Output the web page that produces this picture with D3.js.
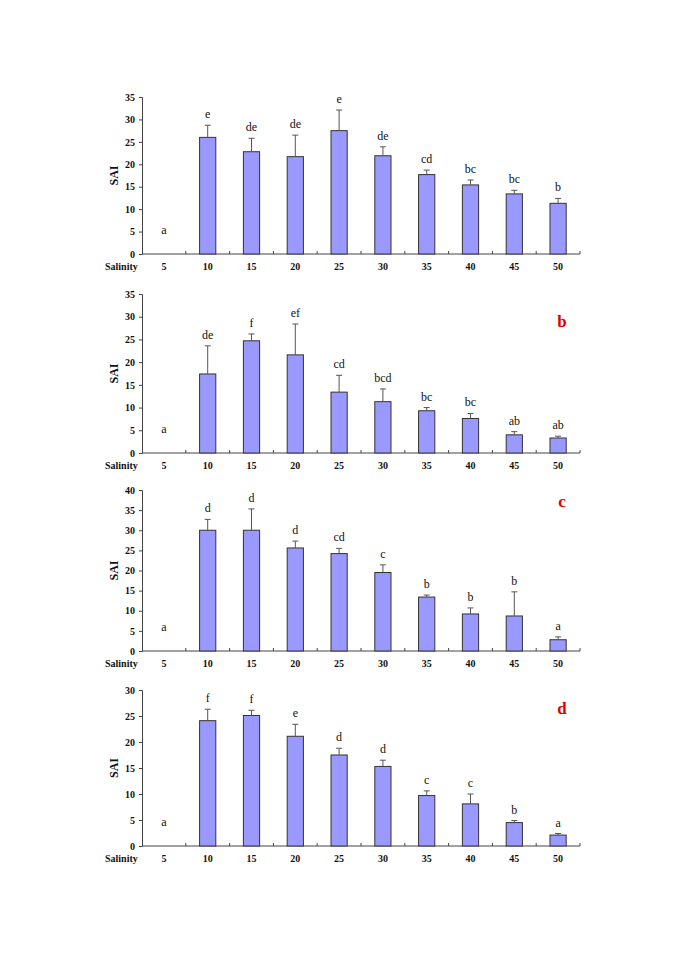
<!DOCTYPE html>
<html>
<head>
<meta charset="utf-8">
<script src="https://cdn.jsdelivr.net/npm/d3@7"></script>
<style>
  body { margin: 0; background: #fff; }
  text { font-family: "Liberation Serif", "Times New Roman", serif; }
</style>
</head>
<body>
<script>
var salinity = ['5', '10', '15', '20', '25', '30', '35', '40', '45', '50'];

// panel a
var saiA = [0, 26.0, 22.8, 21.7, 27.5, 21.9, 17.7, 15.4, 13.4, 11.3];
var errA = [0, 2.7, 3.0, 4.8, 4.6, 2.0, 1.0, 1.1, 0.8, 1.1];
var letA = ['a', 'e', 'de', 'de', 'e', 'de', 'cd', 'bc', 'bc', 'b'];
// panel b
var saiB = [0, 17.4, 24.7, 21.6, 13.4, 11.3, 9.3, 7.6, 4.0, 3.3];
var errB = [0, 6.2, 1.5, 6.8, 3.7, 2.8, 0.7, 1.1, 0.7, 0.4];
var letB = ['a', 'de', 'f', 'ef', 'cd', 'bcd', 'bc', 'bc', 'ab', 'ab'];
// panel c
var saiC = [0, 30.0, 30.0, 25.6, 24.2, 19.5, 13.4, 9.2, 8.7, 2.8];
var errC = [0, 2.7, 5.3, 1.7, 1.3, 1.9, 0.5, 1.5, 6.0, 0.7];
var letC = ['a', 'd', 'd', 'd', 'cd', 'c', 'b', 'b', 'b', 'a'];
// panel d
var saiD = [0, 24.1, 25.1, 21.1, 17.5, 15.3, 9.7, 8.1, 4.5, 2.1];
var errD = [0, 2.2, 1.0, 2.3, 1.3, 1.2, 0.9, 1.9, 0.4, 0.3];
var letD = ['a', 'f', 'f', 'e', 'd', 'd', 'c', 'c', 'b', 'a'];

var yMaxes = [35, 35, 40, 30];
var panelTags = ['', 'b', 'c', 'd'];

// layout of each panel (pixel positions of the plot area)
var panels = [
  { sai: saiA, err: errA, lets: letA, top: 97, bottom: 254, tagY: 0 },
  { sai: saiB, err: errB, lets: letB, top: 294, bottom: 453, tagY: 327 },
  { sai: saiC, err: errC, lets: letC, top: 490, bottom: 651, tagY: 507 },
  { sai: saiD, err: errD, lets: letD, top: 690, bottom: 846, tagY: 714 }
];

var svg = d3.select('body').append('svg').attr('width', 685).attr('height', 969);

var left = 142, right = 580;

var x = d3.scaleBand().domain(salinity).range([left, right]).padding(0);
var barW = x.bandwidth() * 0.37;

function drawPanel(p, i) {
  var g = svg.append('g');
  var y = d3.scaleLinear().domain([0, yMaxes[i]]).range([p.bottom, p.top]);
  var data = salinity.map(function(s, k) {
    return { cat: s, v: p.sai[k], e: p.err[k], l: p.lets[k] };
  });

  // y axis
  var yAxis = d3.axisLeft(y).tickValues(d3.range(0, yMaxes[i] + 1, 5))
    .tickSize(3).tickSizeOuter(3).tickPadding(4);
  var ya = g.append('g').attr('transform', 'translate(' + left + ',0)').call(yAxis);
  ya.select('.domain').attr('stroke', '#444');
  ya.selectAll('.tick line').attr('stroke', '#444');
  ya.selectAll('text').attr('font-size', 10).attr('font-weight', 'bold')
    .attr('font-family', '"Liberation Serif", serif').attr('fill', '#111');

  // x axis line with ticks between categories (drawn upward)
  var xa = g.append('g').attr('transform', 'translate(0,' + p.bottom + ')');
  xa.append('line').attr('x1', left).attr('x2', right).attr('stroke', '#444');
  xa.selectAll('.sep').data(salinity)
    .enter().append('line')
    .attr('x1', function(d) { return x(d) + x.bandwidth(); })
    .attr('x2', function(d) { return x(d) + x.bandwidth(); })
    .attr('y1', 0).attr('y2', -3).attr('stroke', '#444');
  xa.selectAll('.cat').data(salinity).enter().append('text')
    .attr('x', function(d) { return x(d) + x.bandwidth() / 2; })
    .attr('y', 16)
    .attr('text-anchor', 'middle').attr('font-size', 10).attr('font-weight', 'bold')
    .attr('fill', '#111').text(function(d) { return d; });
  xa.append('text').attr('x', 105).attr('y', 16).attr('font-size', 10)
    .attr('font-weight', 'bold').attr('fill', '#111').text('Salinity');

  // y label
  g.append('text')
    .attr('transform', 'translate(118,' + ((p.top + p.bottom) / 2) + ') rotate(-90)')
    .attr('text-anchor', 'middle').attr('font-size', 12).attr('font-weight', 'bold')
    .attr('fill', '#111').text('SAI');

  // bars
  g.selectAll('.bar').data(data.filter(function(d) { return d.v > 0; }))
    .enter().append('rect')
    .attr('x', function(d) { return x(d.cat) + (x.bandwidth() - barW) / 2; })
    .attr('y', function(d) { return y(d.v); })
    .attr('width', barW)
    .attr('height', function(d) { return p.bottom - y(d.v); })
    .attr('fill', '#9999ff').attr('stroke', '#333').attr('stroke-width', 1);

  // error bars (upper only)
  var eb = g.selectAll('.err').data(data.filter(function(d) { return d.e > 0; }))
    .enter().append('g');
  eb.append('line')
    .attr('x1', function(d) { return x(d.cat) + x.bandwidth() / 2; })
    .attr('x2', function(d) { return x(d.cat) + x.bandwidth() / 2; })
    .attr('y1', function(d) { return y(d.v); })
    .attr('y2', function(d) { return y(d.v + d.e); })
    .attr('stroke', '#555');
  eb.append('line')
    .attr('x1', function(d) { return x(d.cat) + x.bandwidth() / 2 - 3; })
    .attr('x2', function(d) { return x(d.cat) + x.bandwidth() / 2 + 3; })
    .attr('y1', function(d) { return y(d.v + d.e); })
    .attr('y2', function(d) { return y(d.v + d.e); })
    .attr('stroke', '#555');

  // significance letters
  g.selectAll('.let').data(data).enter().append('text')
    .attr('x', function(d) { return x(d.cat) + x.bandwidth() / 2; })
    .attr('y', function(d) { return d.v > 0 ? y(d.v + d.e) - 7 : p.bottom - 20; })
    .attr('text-anchor', 'middle').attr('font-size', 12).attr('fill', '#111')
    .text(function(d) { return d.l; });

  // panel tag
  if (panelTags[i]) {
    g.append('text').attr('x', 562).attr('y', p.tagY)
      .attr('text-anchor', 'middle').attr('font-size', 17).attr('font-weight', 'bold')
      .attr('fill', '#e00000').text(panelTags[i]);
  }
}

panels.forEach(drawPanel);
</script>
</body>
</html>
